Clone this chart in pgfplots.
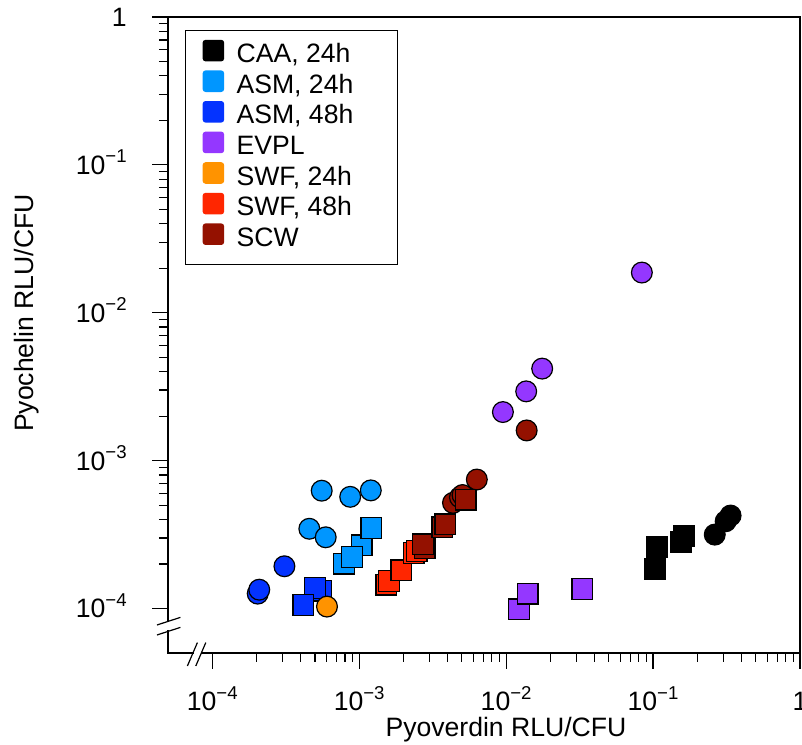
\documentclass[border=0pt]{standalone}
\usepackage{fontspec}
\setmainfont{Liberation Sans}
\usepackage{pgfplots}
\pgfplotsset{compat=1.18}
\usetikzlibrary{calc}
\definecolor{caa}{RGB}{0,0,0}
\definecolor{asmA}{RGB}{0,150,255}
\definecolor{asmB}{RGB}{4,51,255}
\definecolor{evpl}{RGB}{148,55,255}
\definecolor{swfA}{RGB}{255,147,0}
\definecolor{swfB}{RGB}{255,38,0}
\definecolor{scw}{RGB}{148,17,0}
\newcommand{\ex}[1]{10\raisebox{5.8pt}{\fontsize{9.3}{10}\selectfont #1}}
\newcommand{\legtxt}[1]{\makebox[72pt][l]{#1}}
\pgfplotsset{
  ci/.style={only marks, mark=*, mark size=5.2pt, fill=#1, draw=black, line width=0.6pt},
  sq/.style={only marks, mark=square*, mark size=5.2pt, fill=#1, draw=black, line width=0.6pt},
}
\begin{document}
\fontsize{13.3}{16}\selectfont
\begin{tikzpicture}
\begin{axis}[name=ax,
  xmode=log, ymode=log, scale only axis, width=316pt, height=318pt,
  xmin=5e-5, xmax=1, ymin=5e-5, ymax=1,
  axis line style={line width=0.6pt},
  tick pos=left, tick align=outside,
  major tick length=8pt, minor tick length=4.5pt,
  tick style={black, line width=0.6pt},
  xtick={1e-4,1e-3,1e-2,1e-1,1}, ytick={1e-4,1e-3,1e-2,1e-1,1},
  xticklabels={\ex{−4},\ex{−3},\ex{−2},\ex{−1},1},
  yticklabels={\ex{−4},\ex{−3},\ex{−2},\ex{−1},1},
  minor xtick={2e-4,3e-4,4e-4,5e-4,6e-4,7e-4,8e-4,9e-4,2e-3,3e-3,4e-3,5e-3,6e-3,7e-3,8e-3,9e-3,2e-2,3e-2,4e-2,5e-2,6e-2,7e-2,8e-2,9e-2,2e-1,3e-1,4e-1,5e-1,6e-1,7e-1,8e-1,9e-1},
  minor ytick={2e-4,3e-4,4e-4,5e-4,6e-4,7e-4,8e-4,9e-4,2e-3,3e-3,4e-3,5e-3,6e-3,7e-3,8e-3,9e-3,2e-2,3e-2,4e-2,5e-2,6e-2,7e-2,8e-2,9e-2,2e-1,3e-1,4e-1,5e-1,6e-1,7e-1,8e-1,9e-1},
  xticklabel style={inner sep=0pt, anchor=base, yshift=-21pt},
  yticklabel style={inner sep=0pt, anchor=base east, xshift=-12.5pt, yshift=-4.7pt},
  xlabel={Pyoverdin RLU/CFU}, ylabel={Pyochelin RLU/CFU},
  xlabel style={at={($(rel axis cs:0.5,0)+(11pt,-42pt)$)}, anchor=base, inner sep=0pt},
  ylabel style={at={($(rel axis cs:0,0.5)+(-67pt,11pt)$)}, anchor=base, rotate=0, inner sep=0pt},
  legend style={at={(rel axis cs:0,1)}, anchor=north west, xshift=8.5pt, yshift=-6.5pt,
    draw=black, line width=0.6pt, inner xsep=8.5pt, inner ysep=6.5pt, row sep=3.3pt,
    font=\fontsize{13.3}{16}\selectfont,
    nodes={inner sep=0pt, text height=9.5pt, text depth=2.5pt}},
  legend cell align=left,
  legend image code/.code={\fill[overlay, draw=none, rounded corners=1.5pt] (0pt,-2.9pt) rectangle (10.8pt,7.9pt); \path[draw=none, fill=none] (0pt,2.5pt) -- (17pt,2.5pt);},
]
\addplot[ci=caa] coordinates {(0.263,3.16e-4) (0.312,3.89e-4) (0.337,4.25e-4)};
\addlegendentry{\legtxt{CAA, 24h}}
\addplot[sq=caa, forget plot] coordinates {(0.107,2.59e-4) (0.103,1.84e-4) (0.1545,2.83e-4) (0.163,3.11e-4)};

\addplot[ci=asmA] coordinates {(5.56e-4,6.26e-4) (8.69e-4,5.69e-4) (1.20e-3,6.29e-4) (4.58e-4,3.46e-4) (5.92e-4,3.03e-4)};
\addlegendentry{\legtxt{ASM, 24h}}
\addplot[sq=asmA, forget plot] coordinates {(1.04e-3,2.67e-4) (7.91e-4,2.01e-4) (8.91e-4,2.22e-4) (1.21e-3,3.49e-4)};

\addplot[ci=asmB] coordinates {(2.04e-4,1.26e-4) (2.09e-4,1.34e-4) (3.10e-4,1.93e-4)};
\addlegendentry{\legtxt{ASM, 48h}}
\addplot[sq=asmB, forget plot] coordinates {(5.50e-4,1.32e-4) (5.00e-4,1.38e-4) (4.17e-4,1.06e-4)};

\addplot[ci=evpl] coordinates {(8.39e-2,1.87e-2) (1.76e-2,4.19e-3) (1.37e-2,2.94e-3) (9.51e-3,2.13e-3)};
\addlegendentry{\legtxt{EVPL}}
\addplot[sq=evpl, forget plot] coordinates {(1.22e-2,9.85e-5) (1.40e-2,1.26e-4) (3.30e-2,1.35e-4)};

\addplot[ci=swfA] coordinates {(6.04e-4,1.03e-4)};
\addlegendentry{\legtxt{SWF, 24h}}

\addplot[sq=swfB] coordinates {(1.53e-3,1.45e-4) (1.60e-3,1.53e-4) (1.94e-3,1.81e-4) (2.35e-3,2.38e-4) (2.46e-3,2.44e-4)};
\addlegendentry{\legtxt{SWF, 48h}}

\addplot[ci=scw] coordinates {(4.35e-3,5.18e-4) (4.85e-3,5.65e-4) (5.05e-3,5.85e-4) (6.32e-3,7.45e-4) (1.38e-2,1.60e-3)};
\addlegendentry{\legtxt{SCW}}
\addplot[sq=scw, forget plot] coordinates {(2.79e-3,2.57e-4) (2.72e-3,2.71e-4) (3.68e-3,3.54e-4) (3.86e-3,3.70e-4) (5.30e-3,5.45e-4)};
\end{axis}
% axis breaks
\fill[white] ($(ax.south west)+(-1pt,11.4pt)$) rectangle ($(ax.south west)+(1pt,15.4pt)$);
\draw[line width=0.6pt] ($(ax.south west)+(-5.5pt,9pt)$) -- ++(11.7pt,3.8pt);
\draw[line width=0.6pt] ($(ax.south west)+(-5.5pt,14pt)$) -- ++(11.7pt,3.8pt);
\fill[white] ($(ax.south west)+(12.9pt,-1pt)$) rectangle ($(ax.south west)+(16.3pt,1pt)$);
\draw[line width=0.6pt] ($(ax.south west)+(9.7pt,-6.5pt)$) -- ++(5pt,11.7pt);
\draw[line width=0.6pt] ($(ax.south west)+(13.9pt,-6.5pt)$) -- ++(5pt,11.7pt);
\pgfresetboundingbox
\path[use as bounding box] ($(ax.south west)+(-84pt,-46pt)$) rectangle ($(ax.north east)+(1pt,8.5pt)$);
\end{tikzpicture}
\end{document}
